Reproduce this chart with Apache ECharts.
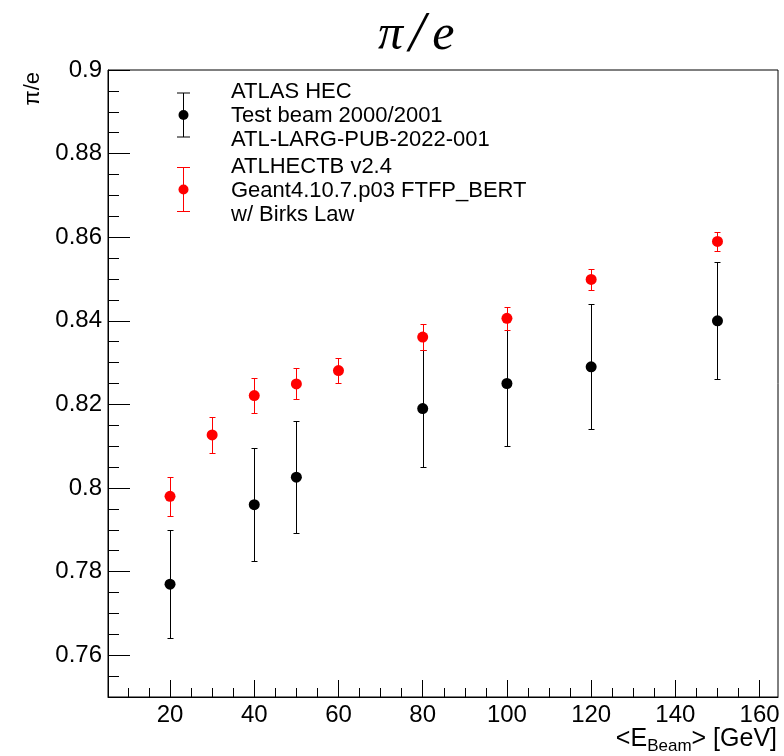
<!DOCTYPE html>
<html>
<head>
<meta charset="utf-8">
<script src="https://cdn.jsdelivr.net/npm/echarts@6/dist/echarts.min.js"></script>
<style>html,body{margin:0;padding:0;background:#fff;}#main{width:784px;height:756px;}</style>
</head>
<body>
<div id="main"></div>
<script>
// ---- data ----
const tbEnergy = [20, 40, 50, 80, 100, 120, 150];
const tbValue  = [0.777, 0.796, 0.8026, 0.819, 0.825, 0.829, 0.840];
const tbError  = [0.013, 0.0135, 0.0134, 0.014, 0.015, 0.015, 0.014];

const simEnergy = [20, 30, 40, 50, 60, 80, 100, 120, 150];
const simValue  = [0.798, 0.8127, 0.8221, 0.8249, 0.8281, 0.8361, 0.8406, 0.8499, 0.8590];
const simError  = [0.0047, 0.0044, 0.0042, 0.0037, 0.0030, 0.0031, 0.0027, 0.0026, 0.0022];

const xMajorTicks = [20, 40, 60, 80, 100, 120, 140, 160];
const xMinorTicks = [10, 15, 25, 30, 35, 45, 50, 55, 65, 70, 75, 85, 90, 95, 105, 110, 115, 125, 130, 135, 145, 150, 155];
const yMajorTicks = [0.76, 0.78, 0.8, 0.82, 0.84, 0.86, 0.88, 0.9];
const yMinorTicks = [0.755, 0.765, 0.77, 0.775, 0.785, 0.79, 0.795, 0.805, 0.81, 0.815, 0.825, 0.83, 0.835,
                     0.845, 0.85, 0.855, 0.865, 0.87, 0.875, 0.885, 0.89, 0.895];

const legendTB  = ['ATLAS HEC', 'Test beam 2000/2001', 'ATL-LARG-PUB-2022-001'];
const legendSim = ['ATLHECTB v2.4', 'Geant4.10.7.p03 FTFP_BERT', 'w/ Birks Law'];

const FONT = 'Liberation Sans, Arial, Helvetica, sans-serif';
const SERIF = 'Liberation Serif, Times New Roman, serif';
const X_MIN = 5.27, X_MAX = 164.37, Y_MIN = 0.75, Y_MAX = 0.9;

function errorBarItem(color, capHalf) {
  return function (params, api) {
    const x = api.value(0), y = api.value(1), e = api.value(2);
    const top = api.coord([x, y + e]);
    const bot = api.coord([x, y - e]);
    const cx = Math.round(api.coord([x, y])[0]) + 0.5;
    const t = Math.round(top[1]) + 0.5, b = Math.round(bot[1]) + 0.5;
    const st = { stroke: color, lineWidth: 1 };
    return {
      type: 'group',
      children: [
        { type: 'line', shape: { x1: cx, y1: t, x2: cx, y2: b }, style: st },
        { type: 'line', shape: { x1: cx - capHalf, y1: t, x2: cx + capHalf, y2: t }, style: st },
        { type: 'line', shape: { x1: cx - capHalf, y1: b, x2: cx + capHalf, y2: b }, style: st }
      ]
    };
  };
}

function legendEntry(color, cy, lines) {
  const cx = 183.5;
  const st = { stroke: color, lineWidth: 1 };
  return [
    { type: 'line', shape: { x1: cx, y1: cy - 22, x2: cx, y2: cy + 22 }, style: st, silent: true },
    { type: 'line', shape: { x1: cx - 6.5, y1: cy - 22, x2: cx + 6.5, y2: cy - 22 }, style: st, silent: true },
    { type: 'line', shape: { x1: cx - 6.5, y1: cy + 22, x2: cx + 6.5, y2: cy + 22 }, style: st, silent: true },
    { type: 'circle', shape: { cx: cx, cy: cy, r: 5 }, style: { fill: color }, silent: true },
    { type: 'text', x: 231, y: cy + 1, silent: true,
      style: { text: lines.join('\n'), fill: '#000', font: '22px ' + FONT, lineHeight: 24,
               textAlign: 'left', textVerticalAlign: 'middle' } }
  ];
}

const xTitle = {
  type: 'text', right: 7, top: 727, silent: true,
  style: {
    text: '{n|<E}{s|Beam}{n|> [GeV]}',
    rich: {
      n: { fontFamily: FONT, fontSize: 25, fill: '#000', lineHeight: 30, verticalAlign: 'middle' },
      s: { fontFamily: FONT, fontSize: 17, fill: '#000', lineHeight: 10, verticalAlign: 'bottom' }
    }
  }
};

const chart = echarts.init(document.getElementById('main'), null, { renderer: 'canvas' });
chart.setOption({
  animation: false,
  backgroundColor: '#fff',
  title: {
    text: '{a|π}{b|/}{c|e}',
    left: 373, top: 2,
    textStyle: {
      fontWeight: 'normal',
      rich: {
        a: { fontFamily: SERIF, fontStyle: 'italic', fontWeight: 'normal', fontSize: 50, color: '#000', padding: [0, 6, 0, 0] },
        b: { fontFamily: SERIF, fontStyle: 'italic', fontWeight: 'normal', fontSize: 58, color: '#000', padding: [0, 7, 0, 0] },
        c: { fontFamily: SERIF, fontStyle: 'italic', fontWeight: 'normal', fontSize: 50, color: '#000' }
      }
    }
  },
  grid: { left: 108, top: 70, width: 670, height: 627, show: true, borderColor: '#000', borderWidth: 1,
          containLabel: false, outerBoundsMode: 'none' },
  xAxis: [
    {
      type: 'value', min: X_MIN, max: X_MAX, position: 'bottom',
      axisLine: { show: true, onZero: false, lineStyle: { color: '#000', width: 1 } },
      axisTick: { show: true, inside: true, length: 17, customValues: xMajorTicks, lineStyle: { color: '#000', width: 1 } },
      axisLabel: { show: true, customValues: xMajorTicks, fontFamily: FONT, fontSize: 24, color: '#000', margin: 6 },
      splitLine: { show: false }
    },
    {
      type: 'value', min: X_MIN, max: X_MAX, position: 'bottom',
      axisLine: { show: false },
      axisTick: { show: true, inside: true, length: 9, customValues: xMinorTicks, lineStyle: { color: '#000', width: 1 } },
      axisLabel: { show: false },
      splitLine: { show: false }
    }
  ],
  yAxis: [
    {
      type: 'value', min: Y_MIN, max: Y_MAX, position: 'left',
      name: 'π/e', nameLocation: 'end', nameGap: -2, nameRotate: 90,
      nameTextStyle: { fontFamily: FONT, fontSize: 22, color: '#000', align: 'right', verticalAlign: 'bottom', padding: [0, 0, 64, 0] },
      axisLine: { show: true, onZero: false, lineStyle: { color: '#000', width: 1 } },
      axisTick: { show: true, inside: true, length: 22, customValues: yMajorTicks, lineStyle: { color: '#000', width: 1 } },
      axisLabel: { show: true, customValues: yMajorTicks, fontFamily: FONT, fontSize: 24, color: '#000', margin: 6 },
      splitLine: { show: false }
    },
    {
      type: 'value', min: Y_MIN, max: Y_MAX, position: 'left',
      axisLine: { show: false },
      axisTick: { show: true, inside: true, length: 11, customValues: yMinorTicks, lineStyle: { color: '#000', width: 1 } },
      axisLabel: { show: false },
      splitLine: { show: false }
    }
  ],
  series: [
    {
      name: 'Test beam error', type: 'custom', xAxisIndex: 0, yAxisIndex: 0,
      renderItem: errorBarItem('#000', 3), encode: { x: 0, y: 1 }, z: 2,
      data: tbEnergy.map((x, i) => [x, tbValue[i], tbError[i]])
    },
    {
      name: 'Simulation error', type: 'custom', xAxisIndex: 0, yAxisIndex: 0,
      renderItem: errorBarItem('#ff0000', 3), encode: { x: 0, y: 1 }, z: 2,
      data: simEnergy.map((x, i) => [x, simValue[i], simError[i]])
    },
    {
      name: 'Test beam', type: 'scatter', xAxisIndex: 0, yAxisIndex: 0, symbol: 'circle', symbolSize: 11, z: 3,
      itemStyle: { color: '#000', opacity: 1 },
      data: tbEnergy.map((x, i) => [x, tbValue[i]])
    },
    {
      name: 'Simulation', type: 'scatter', xAxisIndex: 0, yAxisIndex: 0, symbol: 'circle', symbolSize: 11, z: 4,
      itemStyle: { color: '#ff0000', opacity: 1 },
      data: simEnergy.map((x, i) => [x, simValue[i]])
    }
  ],
  graphic: [].concat(legendEntry('#000', 115, legendTB), legendEntry('#ff0000', 189.5, legendSim), [xTitle])
});
</script>
</body>
</html>
